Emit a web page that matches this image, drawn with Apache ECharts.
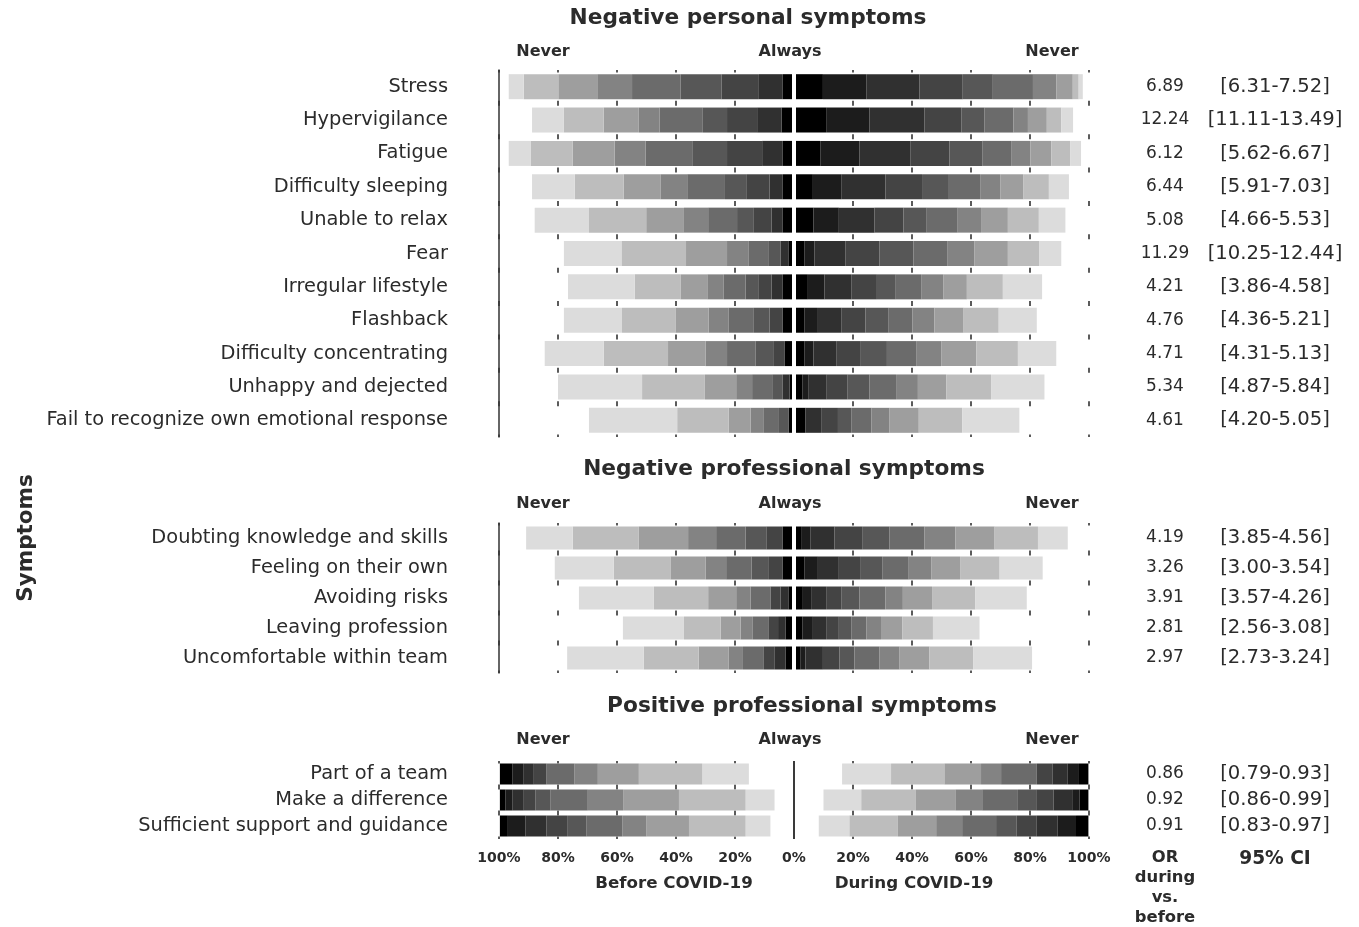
<!DOCTYPE html>
<html>
<head>
<meta charset="utf-8">
<title>Symptoms before and during COVID-19</title>
<script src="https://cdn.jsdelivr.net/npm/echarts@6.0.0/dist/echarts.min.js"></script>
<style>
  html, body { margin: 0; padding: 0; background: #fff; }
  #chart { width: 1359px; height: 927px; }
</style>
</head>
<body>
<div id="chart"></div>
<script>
// --- data (percent of respondents per answer level, listed from "Always" (0) to the lightest level (9)) ---
const personalLabels = ['Stress', 'Hypervigilance', 'Fatigue', 'Difficulty sleeping', 'Unable to relax', 'Fear',
  'Irregular lifestyle', 'Flashback', 'Difficulty concentrating', 'Unhappy and dejected',
  'Fail to recognize own emotional response']
const personalOR = ['6.89', '12.24', '6.12', '6.44', '5.08', '11.29', '4.21', '4.76', '4.71', '5.34', '4.61']
const personalCI = ['[6.31-7.52]', '[11.11-13.49]', '[5.62-6.67]', '[5.91-7.03]', '[4.66-5.53]', '[10.25-12.44]',
  '[3.86-4.58]', '[4.36-5.21]', '[4.31-5.13]', '[4.87-5.84]', '[4.20-5.05]']
const personalBefore = [
  [3.8, 0, 8.1, 12.7, 13.9, 16.4, 11.8, 13.2, 11.7, 5.1],
  [4.2, 0, 8.3, 10.2, 8.2, 14.7, 7.0, 11.9, 13.5, 10.8],
  [3.8, 0, 7.0, 11.9, 11.8, 15.8, 10.5, 14.2, 14.3, 7.4],
  [3.8, 0, 4.5, 7.9, 7.2, 12.8, 9.1, 12.4, 16.6, 14.5],
  [3.8, 0, 3.8, 6.0, 5.7, 9.8, 8.2, 12.8, 19.4, 18.4],
  [1.75, 0, 2.85, 0, 3.9, 6.8, 7.4, 13.9, 21.9, 19.5],
  [3.8, 0, 3.8, 4.3, 4.5, 7.4, 5.6, 9.1, 15.5, 22.6],
  [3.8, 0, 0, 4.5, 5.3, 8.5, 6.8, 11.3, 18.1, 19.7],
  [3.1, 0, 0, 3.7, 6.3, 9.6, 7.3, 12.7, 21.8, 20.0],
  [1.5, 0, 2.3, 0, 3.6, 6.8, 5.4, 10.6, 21.3, 28.5],
  [1.75, 0, 0, 0, 3.35, 5.1, 4.5, 7.4, 17.5, 29.9]
]
const personalDuring = [
  [9.8, 14.7, 18.0, 14.7, 10.2, 13.6, 7.9, 5.6, 2.0, 1.4],
  [10.9, 14.7, 18.6, 12.5, 7.9, 9.8, 4.9, 6.4, 4.9, 4.0],
  [8.9, 13.3, 17.2, 13.3, 11.1, 9.8, 6.5, 7.1, 6.4, 3.7],
  [6.4, 9.6, 15.0, 12.4, 9.1, 10.6, 6.8, 7.9, 8.6, 6.8],
  [6.6, 8.6, 12.1, 9.8, 7.9, 10.5, 7.9, 9.1, 10.5, 9.0],
  [3.6, 3.3, 10.6, 11.5, 11.5, 11.6, 9.1, 11.3, 10.7, 7.4],
  [4.7, 5.6, 9.1, 8.7, 6.4, 8.6, 7.6, 7.9, 12.2, 13.3],
  [3.6, 4.5, 7.9, 8.2, 7.9, 8.0, 7.5, 9.9, 11.9, 12.9],
  [3.6, 3.0, 7.7, 8.1, 9.1, 9.9, 8.5, 11.9, 14.1, 13.0],
  [2.8, 2.2, 6.1, 7.1, 7.4, 9.0, 7.4, 9.6, 15.2, 18.1],
  [3.9, 0, 5.3, 5.7, 4.5, 6.8, 6.2, 9.9, 14.7, 19.4]
]

const professionalLabels = ['Doubting knowledge and skills', 'Feeling on their own', 'Avoiding risks',
  'Leaving profession', 'Uncomfortable within team']
const professionalOR = ['4.19', '3.26', '3.91', '2.81', '2.97']
const professionalCI = ['[3.85-4.56]', '[3.00-3.54]', '[3.57-4.26]', '[2.56-3.08]', '[2.73-3.24]']
const professionalBefore = [
  [3.8, 0, 0, 5.6, 7.0, 10.0, 9.5, 16.7, 22.4, 15.8],
  [3.8, 0, 0, 4.7, 5.9, 8.6, 7.0, 11.9, 19.2, 20.0],
  [1.75, 0, 2.85, 3.4, 0, 6.7, 4.9, 9.5, 18.4, 25.4],
  [2.9, 0, 2.5, 3.1, 0, 5.45, 4.15, 6.8, 12.4, 20.7],
  [2.9, 0, 3.6, 3.7, 0, 7.1, 4.8, 10.2, 18.6, 26.0]
]
const professionalDuring = [
  [2.4, 3.1, 8.2, 9.4, 9.3, 11.8, 10.5, 13.3, 14.7, 10.1],
  [3.6, 4.5, 7.1, 7.2, 7.5, 9.0, 7.6, 9.8, 13.4, 14.6],
  [3.0, 2.8, 5.1, 5.1, 6.2, 8.8, 5.9, 9.9, 14.7, 17.4],
  [2.8, 3.6, 4.5, 4.3, 4.2, 5.1, 5.0, 7.2, 10.4, 15.8],
  [2.1, 1.8, 5.9, 5.6, 5.1, 8.5, 6.8, 10.1, 14.9, 19.9]
]

const positiveLabels = ['Part of a team', 'Make a difference', 'Sufficient support and guidance']
const positiveOR = ['0.86', '0.92', '0.91']
const positiveCI = ['[0.79-0.93]', '[0.86-0.99]', '[0.83-0.97]']
// here the darkest level sits at the outer edge, "never" next to the centre
const positiveBefore = [
  [4.2, 3.7, 3.6, 4.3, 0, 9.5, 7.9, 13.9, 21.5, 15.8],
  [1.9, 2.3, 3.9, 4.0, 5.1, 12.6, 12.0, 18.9, 22.6, 9.8],
  [2.7, 6.0, 7.1, 7.0, 6.6, 12.1, 8.2, 14.4, 19.2, 8.4]
]
const positiveBeforeNever = [15.3, 6.6, 8.0]
const positiveDuring = [
  [3.2, 3.8, 5.1, 5.4, 0, 12.1, 6.8, 12.4, 18.1, 16.6],
  [3.0, 2.5, 6.3, 5.9, 6.2, 12.1, 9.1, 13.5, 18.4, 12.8],
  [4.2, 6.2, 7.1, 6.8, 7.0, 11.5, 8.8, 13.0, 16.4, 10.4]
]
const positiveDuringNever = [16.3, 10.0, 8.4]

const xTicks = [-100, -80, -60, -40, -20, 0, 20, 40, 60, 80, 100]

const shades = ['#000000', '#1c1c1c', '#303030', '#444444', '#575757',
  '#6b6b6b', '#838383', '#9e9e9e', '#bdbdbd', '#dcdcdc']
const FONT = '"DejaVu Sans", sans-serif'
const TEXT = '#2b2b2b'

const panels = [
  { labels: personalLabels, or: personalOR, ci: personalCI, before: personalBefore, during: personalDuring,
    top: 70, height: 367, barWidth: 25, centre: '#ffffff', centreWidth: 4 },
  { labels: professionalLabels, or: professionalOR, ci: professionalCI, before: professionalBefore, during: professionalDuring,
    top: 523, height: 150, barWidth: 23, centre: '#ffffff', centreWidth: 4 },
  { labels: positiveLabels, or: positiveOR, ci: positiveCI, before: positiveBefore, during: positiveDuring,
    beforeNever: positiveBeforeNever, duringNever: positiveDuringNever,
    top: 761, height: 78, barWidth: 21, centre: '#3a3a3a', centreWidth: 2, reversed: true }
]

const chart = echarts.init(document.getElementById('chart'))

const grids = []
const xAxes = []
const yAxes = []
const series = []

panels.forEach((p, i) => {
  grids.push({ left: 499, width: 590, top: p.top, height: p.height })

  // grid lines only show as short marks between the rows
  const rowStep = p.height / p.labels.length
  xAxes.push({
    gridIndex: i,
    type: 'value',
    min: xTicks[0],
    max: xTicks[xTicks.length - 1],
    interval: 20,
    axisLine: { show: false },
    axisTick: { show: false },
    axisLabel: {
      show: i === 2,
      margin: 12,
      fontFamily: FONT,
      fontWeight: 'bold',
      fontSize: 14,
      color: TEXT,
      formatter: v => Math.abs(v) + '%'
    },
    splitLine: {
      show: true,
      lineStyle: { color: '#333', width: 1.6, type: [5, rowStep - 5], dashOffset: 2.5 }
    }
  })

  const catAxis = {
    gridIndex: i,
    type: 'category',
    inverse: true,
    axisTick: { show: false }
  }
  yAxes.push(Object.assign({}, catAxis, {
    data: p.labels,
    position: 'left',
    axisLine: { show: i < 2, onZero: false, lineStyle: { color: '#333', width: 1.5 } },
    axisLabel: { interval: 0, fontFamily: FONT, fontSize: 19.4, color: TEXT, margin: 51 }
  }))
  yAxes.push(Object.assign({}, catAxis, {
    data: p.or,
    position: 'right',
    axisLine: { show: false, onZero: false },
    axisLabel: { interval: 0, fontFamily: FONT, fontSize: 17, color: TEXT, margin: 76, align: 'center' }
  }))
  yAxes.push(Object.assign({}, catAxis, {
    data: p.ci,
    position: 'right',
    axisLine: { show: false, onZero: false },
    axisLabel: { interval: 0, fontFamily: FONT, fontSize: 19.6, color: TEXT, margin: 186, align: 'center' }
  }))

  const barBase = {
    type: 'bar',
    stack: 'panel' + i,
    xAxisIndex: i,
    yAxisIndex: i * 3,
    barWidth: p.barWidth,
    silent: true
  }

  const levels = p.reversed ? [9, 8, 7, 6, 5, 4, 3, 2, 1, 0] : [0, 1, 2, 3, 4, 5, 6, 7, 8, 9]
  if (p.reversed) {
    series.push(Object.assign({}, barBase, { name: 'never before', data: p.beforeNever.map(v => -v), itemStyle: { color: 'rgba(0,0,0,0)' } }))
    series.push(Object.assign({}, barBase, { name: 'never during', data: p.duringNever, itemStyle: { color: 'rgba(0,0,0,0)' } }))
  }
  levels.forEach(k => {
    series.push(Object.assign({}, barBase, {
      name: 'before ' + k,
      data: p.before.map(r => -r[k]),
      itemStyle: { color: shades[k] }
    }))
    series.push(Object.assign({}, barBase, {
      name: 'during ' + k,
      data: p.during.map(r => r[k]),
      itemStyle: { color: shades[k] }
    }))
  })
  // centre divider
  series[series.length - 1].z = 5
  series[series.length - 1].markLine = {
    silent: true,
    symbol: 'none',
    label: { show: false },
    animation: false,
    lineStyle: { color: p.centre, width: p.centreWidth, type: 'solid' },
    data: [{ xAxis: 0 }]
  }
})

function txt (x, y, text, size, bold, extra) {
  return Object.assign({
    type: 'text',
    x: x,
    y: y,
    style: {
      text: text,
      font: (bold ? 'bold ' : '') + size + 'px ' + FONT,
      fill: TEXT,
      align: 'center',
      verticalAlign: 'middle',
      textAlign: 'center',
      textVerticalAlign: 'middle'
    }
  }, extra || {})
}

const graphics = [
  txt(748, 18, 'Negative personal symptoms', 21.7, true),
  txt(784, 469, 'Negative professional symptoms', 21.7, true),
  txt(802, 706, 'Positive professional symptoms', 21.7, true),
  txt(26, 538, 'Symptoms', 21.5, true, { rotation: Math.PI / 2 }),
  txt(674, 884, 'Before COVID-19', 16.7, true),
  txt(914, 884, 'During COVID-19', 16.7, true),
  txt(1275, 859, '95% CI', 18.6, true)
]
;[52, 504, 740].forEach(y => {
  graphics.push(txt(543, y, 'Never', 16, true))
  graphics.push(txt(790, y, 'Always', 16, true))
  graphics.push(txt(1052, y, 'Never', 16, true))
})
const orHead = txt(1165, 888, 'OR\nduring\nvs.\nbefore', 16.4, true)
orHead.style.lineHeight = 20
graphics.push(orHead)

chart.setOption({
  animation: false,
  backgroundColor: '#ffffff',
  grid: grids,
  xAxis: xAxes,
  yAxis: yAxes,
  series: series,
  graphic: graphics
})
</script>
</body>
</html>
